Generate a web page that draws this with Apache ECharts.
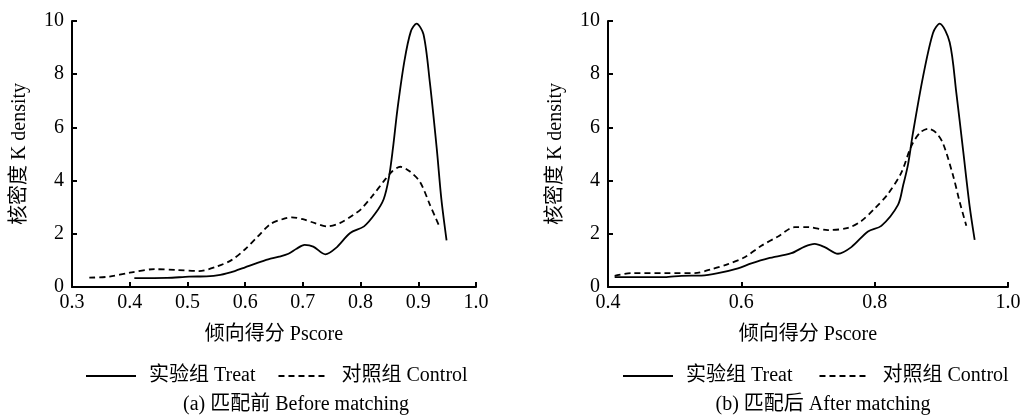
<!DOCTYPE html>
<html>
<head>
<meta charset="utf-8">
<script src="https://cdn.jsdelivr.net/npm/echarts@6/dist/echarts.min.js"></script>
<style>
html,body{margin:0;padding:0;background:#fff;}
#c{width:1025px;height:415px;}
</style>
</head>
<body>
<div id="c"></div>
<script>
// Before matching (a)
var beforeTreat = [
  [0.408,0.33],[0.465,0.34],[0.503,0.39],[0.533,0.40],[0.557,0.46],[0.582,0.60],[0.60,0.74],
  [0.619,0.89],[0.64,1.04],[0.659,1.14],[0.675,1.25],[0.689,1.44],[0.703,1.58],[0.718,1.52],
  [0.739,1.23],[0.757,1.46],[0.782,2.03],[0.806,2.28],[0.826,2.78],[0.84,3.3],[0.849,4.1],
  [0.856,5.2],[0.864,6.7],[0.876,8.5],[0.887,9.6],[0.897,9.9],[0.909,9.5],[0.92,7.7],
  [0.932,5.2],[0.94,3.3],[0.949,1.75]
];
var beforeControl = [
  [0.33,0.35],[0.365,0.39],[0.40,0.54],[0.443,0.67],[0.481,0.64],[0.52,0.60],[0.551,0.77],
  [0.577,1.02],[0.60,1.42],[0.622,1.90],[0.644,2.37],[0.665,2.55],[0.681,2.62],[0.70,2.55],
  [0.721,2.40],[0.742,2.28],[0.764,2.40],[0.788,2.72],[0.80,2.91],[0.82,3.41],[0.84,3.97],
  [0.855,4.35],[0.869,4.52],[0.885,4.35],[0.903,3.95],[0.92,3.1],[0.938,2.2]
];
// After matching (b)
var afterTreat = [
  [0.41,0.37],[0.485,0.37],[0.51,0.42],[0.54,0.43],[0.565,0.52],[0.595,0.70],[0.615,0.89],
  [0.64,1.08],[0.675,1.27],[0.695,1.52],[0.71,1.62],[0.725,1.50],[0.745,1.25],[0.765,1.50],
  [0.79,2.09],[0.81,2.30],[0.835,3.09],[0.8425,3.8],[0.85,4.6],[0.8575,5.8],[0.8725,7.9],
  [0.8875,9.55],[0.8975,9.9],[0.9125,9.2],[0.9225,7.3],[0.9325,5.17],[0.9425,3.03],[0.95,1.77]
];
var afterControl = [
  [0.41,0.42],[0.435,0.52],[0.485,0.52],[0.53,0.52],[0.555,0.67],[0.58,0.86],[0.605,1.12],
  [0.63,1.55],[0.655,1.90],[0.68,2.25],[0.70,2.25],[0.73,2.14],[0.76,2.22],[0.78,2.48],
  [0.80,2.95],[0.82,3.5],[0.84,4.3],[0.855,5.3],[0.868,5.8],[0.88,5.95],[0.892,5.8],
  [0.9025,5.4],[0.9175,4.2],[0.9275,3.2],[0.9375,2.3]
];
var seriesNames = ['实验组 Treat', '对照组 Control'];
var captions = ['(a) 匹配前 Before matching', '(b) 匹配后 After matching'];
var xName = '倾向得分 Pscore';
var yName = '核密度 K density';

var FONT = "'Liberation Serif','Noto Sans CJK SC',serif";
var FS = 20;
var txt = {fontFamily: FONT, fontSize: FS, color: '#000'};
var axisLine = {show: true, onZero: false, lineStyle: {color: '#000', width: 2}};
var axisTick = {show: true, inside: true, length: 5, lineStyle: {color: '#000', width: 2}};

function xAx(gi, min, interval) {
  return {
    type: 'value', gridIndex: gi, min: min, max: 1.0, interval: interval,
    name: xName, nameLocation: 'middle', nameGap: 38, nameTextStyle: txt,
    axisLine: axisLine, axisTick: axisTick, splitLine: {show: false},
    axisLabel: Object.assign({margin: 6, formatter: function (v) { return v.toFixed(1); }}, txt)
  };
}
function yAx(gi) {
  return {
    type: 'value', gridIndex: gi, min: 0, max: 10, interval: 2,
    name: yName, nameLocation: 'middle', nameGap: 42, nameRotate: 90, nameTextStyle: txt,
    axisLine: axisLine, axisTick: axisTick, splitLine: {show: false},
    axisLabel: Object.assign({margin: 8}, txt)
  };
}
function ser(name, data, xi, dashed) {
  return {
    type: 'line', name: name, data: data, xAxisIndex: xi, yAxisIndex: xi,
    symbol: 'none', smooth: 0.3, silent: true,
    lineStyle: {color: '#000', width: 1.8, type: dashed ? [6, 4] : 'solid'},
    itemStyle: {color: '#000'}
  };
}
function leg(left, gap) {
  return {
    left: left, top: 361, itemWidth: 50, itemHeight: 10, itemGap: gap,
    data: seriesNames, selectedMode: false,
    itemStyle: {opacity: 0},
    textStyle: Object.assign({padding: [0, 0, 0, 8]}, txt)
  };
}

var chart = echarts.init(document.getElementById('c'), null, {renderer: 'canvas'});
chart.setOption({
  backgroundColor: '#fff',
  animation: false,
  grid: [
    {left: 72, right: 549, top: 21, bottom: 128},
    {left: 608, right: 17, top: 21, bottom: 128}
  ],
  xAxis: [xAx(0, 0.3, 0.1), xAx(1, 0.4, 0.2)],
  yAxis: [yAx(0), yAx(1)],
  legend: [leg(80, 22), leg(617, 26)],
  title: [
    {text: captions[0], left: 291, top: 390, textAlign: 'center', textStyle: Object.assign({fontWeight: 'normal'}, txt)},
    {text: captions[1], left: 818, top: 390, textAlign: 'center', textStyle: Object.assign({fontWeight: 'normal'}, txt)}
  ],
  series: [
    ser(seriesNames[0], beforeTreat, 0, false),
    ser(seriesNames[1], beforeControl, 0, true),
    ser(seriesNames[0], afterTreat, 1, false),
    ser(seriesNames[1], afterControl, 1, true)
  ]
});
</script>
</body>
</html>
